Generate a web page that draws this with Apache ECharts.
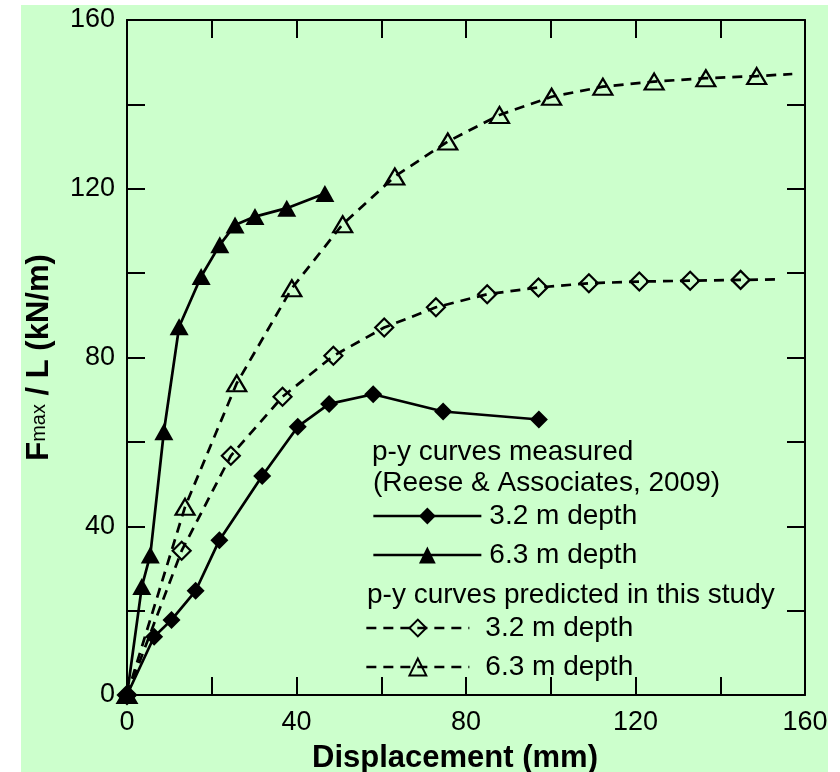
<!DOCTYPE html>
<html>
<head>
<meta charset="utf-8">
<script src="https://cdn.jsdelivr.net/npm/echarts@6/dist/echarts.min.js"></script>
<style>
html,body{margin:0;padding:0;background:#ffffff;}
#bg{position:absolute;left:21px;top:5px;width:807px;height:767px;background:#ccffcc;}
#chart{position:absolute;left:0;top:0;width:840px;height:772px;}
</style>
</head>
<body>
<div id="bg"></div>
<div id="chart"></div>
<script>
// Measured p-y curves (Reese & Associates, 2009)
const measured32X = [0, 6.4, 10.5, 16.2, 21.8, 31.9, 40.3, 47.7, 58.1, 74.6, 97.2];
const measured32Y = [0, 13.8, 17.8, 24.7, 36.7, 51.9, 63.6, 69.0, 71.3, 67.2, 65.3];
const measured63X = [0, 3.5, 5.5, 8.7, 12.3, 17.5, 21.9, 25.5, 30.2, 37.7, 46.7];
const measured63Y = [0, 25.7, 33.2, 62.4, 87.3, 99.2, 106.7, 111.4, 113.4, 115.4, 118.9];
// Predicted p-y curves (last point = curve end, no marker)
const predicted32X = [0, 12.9, 24.5, 36.7, 48.7, 60.7, 72.9, 85.0, 97.1, 109.0, 120.9, 132.9, 144.8, 153.2];
const predicted32Y = [0, 34.2, 56.7, 70.7, 80.4, 87.1, 91.9, 95.0, 96.6, 97.6, 98.0, 98.2, 98.4, 98.5];
const predicted63X = [0, 13.7, 25.9, 38.9, 50.9, 63.2, 75.7, 87.9, 100.2, 112.3, 124.4, 136.6, 148.6, 157.0];
const predicted63Y = [0, 44.6, 73.9, 96.4, 111.6, 122.9, 131.2, 137.5, 141.8, 144.2, 145.4, 146.2, 146.7, 147.2];

const xTicks = [0, 40, 80, 120, 160];
const yTicks = [0, 40, 80, 120, 160];
const legendLabel = '3.2 m depth';
const legendLabel2 = '6.3 m depth';
const headerMeasured = ['p-y curves measured', '(Reese & Associates, 2009)'];
const headerPredicted = 'p-y curves predicted in this study';
const xTitle = 'Displacement (mm)';

const FONT = '"Liberation Sans", Arial, sans-serif';

function pts(xs, ys, endNoSymbol) {
  return xs.map((x, i) => {
    if (endNoSymbol && i === xs.length - 1) return {value: [x, ys[i]], symbol: 'none'};
    return [x, ys[i]];
  });
}

const chart = echarts.init(document.getElementById('chart'), null, {renderer: 'canvas'});

const axisLineStyle = {show: true, onZero: false, lineStyle: {color: '#000', width: 2}};
const tickStyle = {show: true, inside: true, length: 18, lineStyle: {color: '#000', width: 2}};

function labelFmt(ticks) {
  return v => ticks.indexOf(v) >= 0 ? String(v) : '';
}

const option = {
  backgroundColor: 'transparent',
  animation: false,
  grid: {left: 127, right: 35, top: 20, bottom: 77, containLabel: false, outerBoundsMode: 'none'},
  xAxis: [
    {
      type: 'value', min: 0, max: 160, interval: 20, position: 'bottom',
      axisLine: axisLineStyle, axisTick: tickStyle, splitLine: {show: false},
      axisLabel: {formatter: labelFmt(xTicks), fontSize: 27, fontFamily: FONT, color: '#000', margin: 14},
      name: xTitle, nameLocation: 'middle', nameGap: 48,
      nameTextStyle: {fontSize: 31, fontWeight: 'bold', fontFamily: FONT, color: '#000', padding: [0, 22, 0, 0]}
    },
    {
      type: 'value', min: 0, max: 160, interval: 20, position: 'top',
      axisLine: axisLineStyle, axisTick: tickStyle, splitLine: {show: false},
      axisLabel: {show: false}
    }
  ],
  yAxis: [
    {
      type: 'value', min: 0, max: 160, interval: 20, position: 'left',
      axisLine: axisLineStyle, axisTick: tickStyle, splitLine: {show: false},
      axisLabel: {formatter: labelFmt(yTicks), fontSize: 27, fontFamily: FONT, color: '#000', margin: 12},
      name: '{F|F}{m|max}{r| / L (kN/m)}', nameLocation: 'middle', nameGap: 72, nameRotate: 90,
      nameTextStyle: {
        fontFamily: FONT, color: '#000',
        rich: {
          F: {fontSize: 31, fontWeight: 'bold', fontFamily: FONT, color: '#000'},
          m: {fontSize: 20, fontFamily: FONT, color: '#000', verticalAlign: 'middle'},
          r: {fontSize: 31, fontWeight: 'bold', fontFamily: FONT, color: '#000'}
        }
      }
    },
    {
      type: 'value', min: 0, max: 160, interval: 20, position: 'right',
      axisLine: axisLineStyle, axisTick: tickStyle, splitLine: {show: false},
      axisLabel: {show: false}
    }
  ],
  legend: [
    {
      data: ['measured 3.2', 'measured 6.3'],
      orient: 'vertical', left: 372, top: 502, padding: 0,
      itemWidth: 108, itemHeight: 21, itemGap: 11,
      lineStyle: {width: 2.7},
      formatter: n => n === 'measured 3.2' ? legendLabel : legendLabel2,
      textStyle: {fontSize: 28, fontFamily: FONT, color: '#000', lineHeight: 26, padding: [0, 0, 0, 3]},
      selectedMode: false
    },
    {
      data: ['predicted 3.2', 'predicted 6.3'],
      orient: 'vertical', left: 365, top: 614, padding: 0,
      itemWidth: 103, itemHeight: 21, itemGap: 11,
      lineStyle: {width: 2.7},
      formatter: n => n === 'predicted 3.2' ? legendLabel : legendLabel2,
      textStyle: {fontSize: 28, fontFamily: FONT, color: '#000', lineHeight: 26, padding: [0, 0, 0, 11]},
      selectedMode: false
    }
  ],
  graphic: [
    {type: 'text', left: 372, top: 438, style: {text: headerMeasured[0], font: '28px ' + FONT, fill: '#000'}},
    {type: 'text', left: 373, top: 469, style: {text: headerMeasured[1], font: '28px ' + FONT, fill: '#000'}},
    {type: 'text', left: 367, top: 581, style: {text: headerPredicted, font: '28px ' + FONT, fill: '#000'}}
  ],
  series: [
    {
      name: 'predicted 3.2', type: 'line', data: pts(predicted32X, predicted32Y, true),
      symbol: 'diamond', symbolSize: 18,
      lineStyle: {color: '#000', width: 2.7, type: [10, 7]},
      itemStyle: {color: 'rgba(0,0,0,0)', borderColor: '#000', borderWidth: 2.2},
      z: 2
    },
    {
      name: 'predicted 6.3', type: 'line', data: pts(predicted63X, predicted63Y, true),
      symbol: 'triangle', symbolSize: [19, 16],
      lineStyle: {color: '#000', width: 2.7, type: [10, 7]},
      itemStyle: {color: 'rgba(0,0,0,0)', borderColor: '#000', borderWidth: 2.2},
      z: 2
    },
    {
      name: 'measured 3.2', type: 'line', data: pts(measured32X, measured32Y, false),
      symbol: 'diamond', symbolSize: 18,
      lineStyle: {color: '#000', width: 2.7},
      itemStyle: {color: '#000', borderColor: '#000', borderWidth: 0},
      z: 3
    },
    {
      name: 'measured 6.3', type: 'line', data: pts(measured63X, measured63Y, false),
      symbol: 'triangle', symbolSize: [19, 17],
      lineStyle: {color: '#000', width: 2.7},
      itemStyle: {color: '#000', borderColor: '#000', borderWidth: 0},
      z: 3
    }
  ]
};
chart.setOption(option);
</script>
</body>
</html>
